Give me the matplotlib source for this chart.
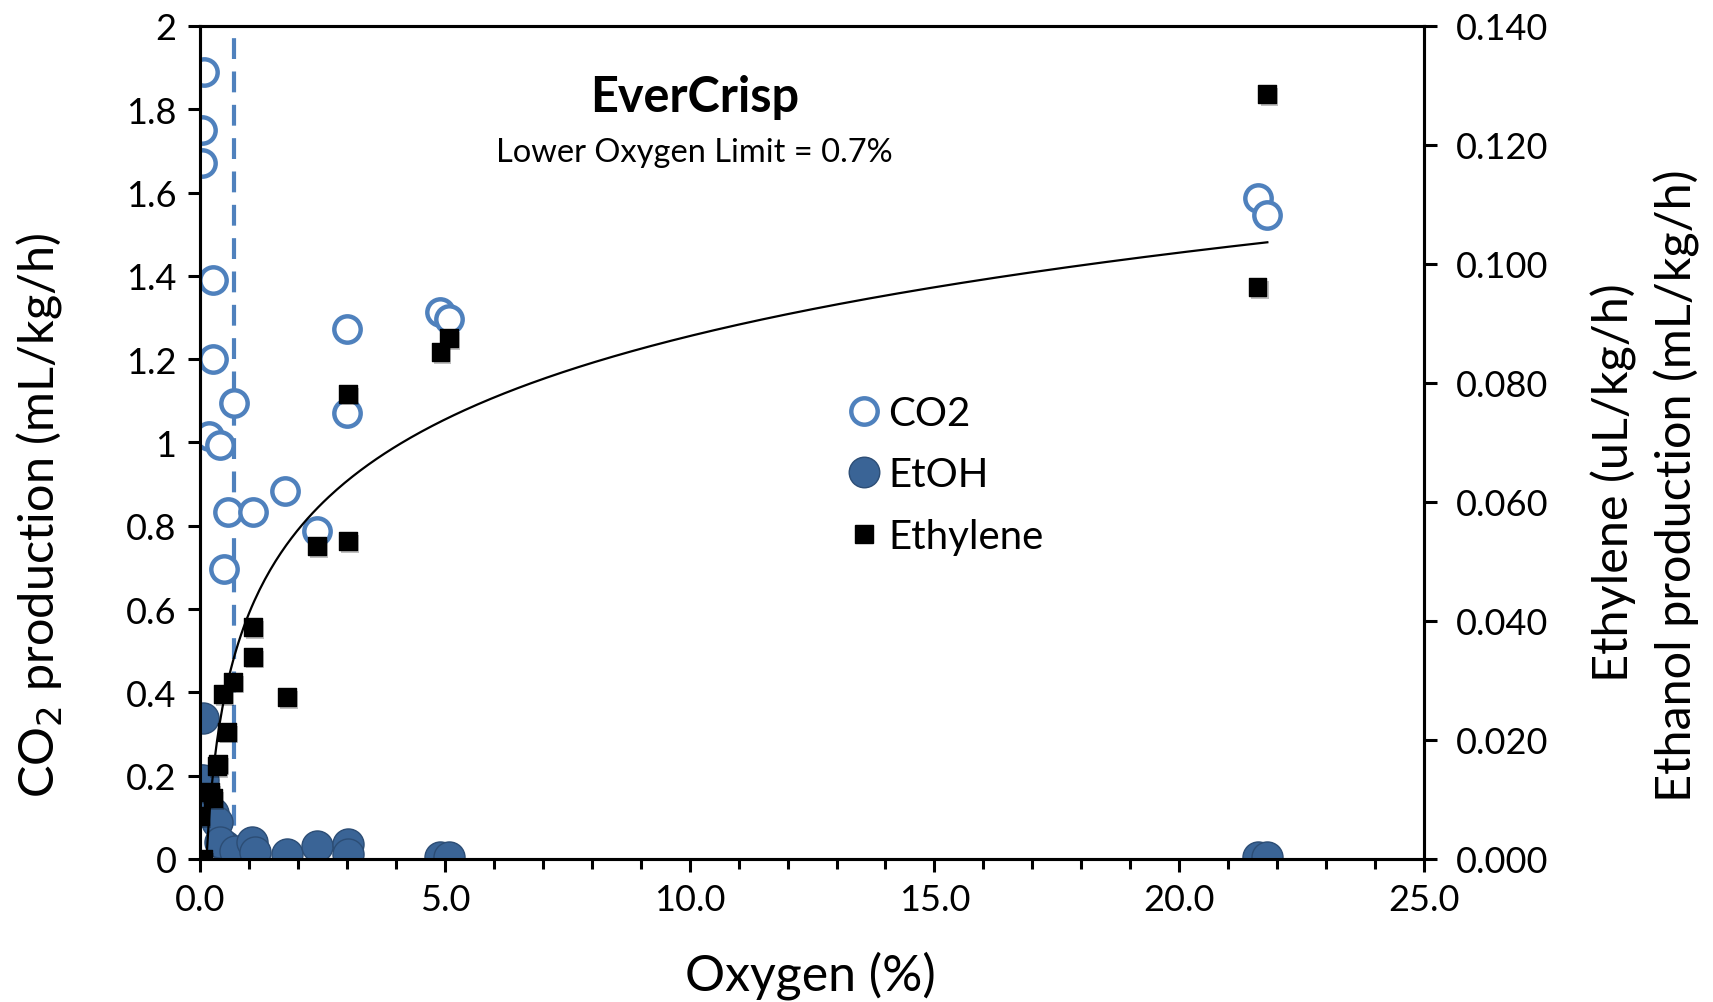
import matplotlib
matplotlib.use("Agg")
import matplotlib.pyplot as plt
import matplotlib.patheffects as pe
from matplotlib.lines import Line2D
from matplotlib.ticker import MultipleLocator
import numpy as np

plt.rcParams["font.family"] = ["Lato", "DejaVu Sans"]

# CO2 production (mL/kg/h), left axis
co2_oxygen = [0.07, 0.04, 0.04, 0.27, 0.27, 0.18, 0.41, 0.69, 0.57, 0.49,
              1.08, 1.74, 2.39, 3.01, 3.01, 4.91, 5.09, 21.6, 21.8]
co2_rate = [1.89, 1.75, 1.67, 1.39, 1.20, 1.016, 0.994, 1.095, 0.833, 0.696,
            0.833, 0.884, 0.788, 1.273, 1.071, 1.314, 1.296, 1.587, 1.546]

# ethanol production (mL/kg/h), right axis
etoh_oxygen = [0.06, 0.0, 0.05, 0.27, 0.35, 0.51, 0.41, 0.71, 1.06, 1.12,
               1.77, 2.39, 3.02, 3.02, 4.91, 5.09, 21.6, 21.8]
etoh_rate = [0.0237, 0.0132, 0.0133, 0.0077, 0.0062, 0.0022, 0.0028, 0.0014,
             0.0028, 0.0012, 0.0008, 0.0022, 0.0025, 0.0008, 0.0003, 0.0003,
             0.0003, 0.0003]

# ethylene (uL/kg/h), right axis
eth_oxygen = [0.06, 0.0, 0.20, 0.27, 0.35, 0.37, 0.55, 0.47, 0.67, 1.08,
              1.08, 1.77, 2.39, 3.02, 3.02, 4.91, 5.09, 21.6, 21.8]
eth_rate = [0.0, 0.0072, 0.0112, 0.0102, 0.0156, 0.0160, 0.0214, 0.0277,
            0.0298, 0.0390, 0.0340, 0.0272, 0.0526, 0.0534, 0.0782, 0.0852,
            0.0875, 0.0961, 0.1286]

# logarithmic trendline of ethylene: y = a*ln(x) + b
trend_a = 0.02023
trend_b = 0.0413
lower_o2_limit = 0.7

BLUE = "#4F81BD"
DARK_BLUE = "#3A6496"

fig = plt.figure(figsize=(17.13, 10.03), dpi=100)
ax = fig.add_axes([0.1168, 0.1426, 0.7145, 0.8305])
ax2 = ax.twinx()

ax.set_xlim(0, 25)
ax.set_ylim(0, 2)
ax2.set_ylim(0, 0.14)

ax.axvline(lower_o2_limit, color=BLUE, lw=3, ls=(0, (5, 3)), zorder=1)
ax.scatter(co2_oxygen, co2_rate, s=360, facecolors="white", edgecolors=BLUE,
           linewidths=3.2, zorder=3)

ax2.scatter(etoh_oxygen, etoh_rate, s=500, color=DARK_BLUE, edgecolors="#2C4D75",
            linewidths=1, zorder=2)
x_start = np.exp(-trend_b / trend_a)
xs = np.linspace(x_start, max(eth_oxygen), 400)
ax2.plot(xs, trend_a * np.log(xs) + trend_b, color="black", lw=1.6, zorder=3)
ax2.scatter(eth_oxygen, eth_rate, s=165, marker="s", color="black", zorder=4,
            path_effects=[pe.SimplePatchShadow(offset=(1.5, -2), alpha=0.25),
                          pe.Normal()])

# ticks
ax.xaxis.set_major_locator(MultipleLocator(5))
ax.xaxis.set_minor_locator(MultipleLocator(1))
ax.xaxis.set_major_formatter(lambda v, p: f"{v:.1f}")
ax.yaxis.set_major_locator(MultipleLocator(0.2))
ax.yaxis.set_major_formatter(lambda v, p: f"{v:g}")
ax2.yaxis.set_major_locator(MultipleLocator(0.02))
ax2.yaxis.set_major_formatter(lambda v, p: f"{v:.3f}")

for a in (ax, ax2):
    for s in a.spines.values():
        s.set_linewidth(2.2)
    a.tick_params(which="major", direction="out", length=9, width=2.2,
                  labelsize=26, pad=8)
    a.tick_params(which="minor", direction="out", length=7, width=2.2)
ax.tick_params(axis="y", which="both", right=False)
ax.tick_params(axis="x", which="both", top=False)
ax2.tick_params(axis="y", pad=14)

fig.text(0.473, 0.027, "Oxygen (%)", fontsize=36, ha="center", va="center")
fig.text(0.023, 0.486, "CO$_2$ production (mL/kg/h)", rotation=90,
         fontsize=35, ha="center", va="center")
fig.text(0.942, 0.519, "Ethylene (uL/kg/h)", rotation=90, fontsize=35,
         ha="center", va="center")
fig.text(0.979, 0.516, "Ethanol production (mL/kg/h)", rotation=90,
         fontsize=35, ha="center", va="center")

ax.text(0.404, 0.915, "EverCrisp", transform=ax.transAxes, fontsize=35,
        fontweight="bold", ha="center", va="center")
ax.text(0.404, 0.849, "Lower Oxygen Limit = 0.7%", transform=ax.transAxes,
        fontsize=23.5, ha="center", va="center")

handles = [
    Line2D([], [], ls="none", marker="o", markersize=19, markerfacecolor="white",
           markeredgecolor=BLUE, markeredgewidth=3.2, label="CO2"),
    Line2D([], [], ls="none", marker="o", markersize=22, markerfacecolor=DARK_BLUE,
           markeredgecolor="#2C4D75", label="EtOH"),
    Line2D([], [], ls="none", marker="s", markersize=13, color="black",
           label="Ethylene"),
]
ax2.legend(handles=handles, loc="center left", bbox_to_anchor=(0.493, 0.461),
           frameon=False, fontsize=29, handletextpad=0.0, labelspacing=0.6,
           handlelength=1.2)

fig.savefig("out.png", dpi=100)
